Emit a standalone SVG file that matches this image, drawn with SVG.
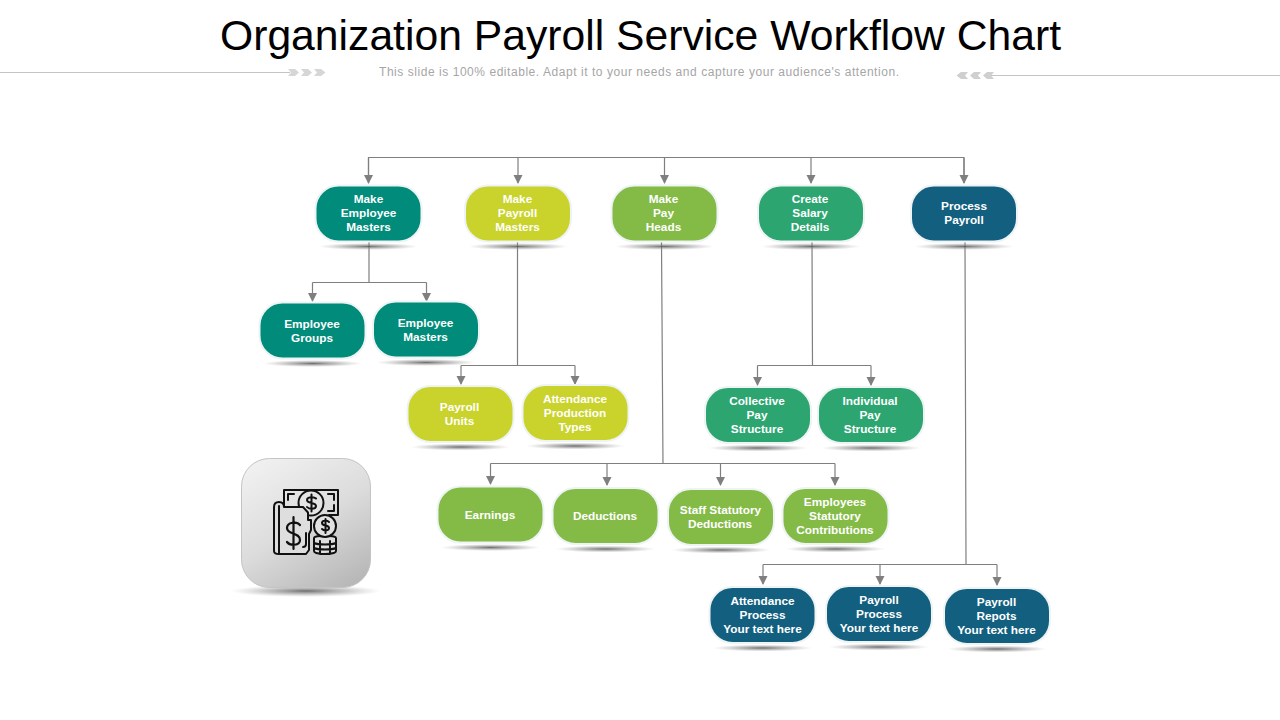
<svg xmlns="http://www.w3.org/2000/svg" width="1280" height="720" viewBox="0 0 1280 720">
<defs>
<radialGradient id="sh"><stop offset="0" stop-color="#555" stop-opacity=".85"/><stop offset=".55" stop-color="#888" stop-opacity=".45"/><stop offset="1" stop-color="#aaa" stop-opacity="0"/></radialGradient>
<linearGradient id="tile" x1="0.2" y1="0" x2="0.8" y2="1"><stop offset="0" stop-color="#f0f0f0"/><stop offset=".5" stop-color="#dcdcdc"/><stop offset="1" stop-color="#b8b8b8"/></linearGradient>
<marker id="ah" markerWidth="9" markerHeight="10" refX="8" refY="4.5" orient="auto" markerUnits="userSpaceOnUse"><path d="M0 0L9 4.5L0 9Z" fill="#7f7f7f"/></marker>
<g id="pill"><ellipse cx="0" cy="33" rx="50" ry="3.5" fill="url(#sh)"/><rect x="-53" y="-28" width="106" height="56" rx="23" stroke="#eef3f3" stroke-width="2"/></g>
</defs>
<style>
text{font-family:"Liberation Sans",Arial,sans-serif}
.t{font-size:11.800px;font-weight:700;fill:#fff;text-anchor:middle}
.c{fill:none;stroke:#7f7f7f;stroke-width:1.200}
.a{marker-end:url(#ah)}
.teal{fill:#008b7a}.lime{fill:#c9d32c}.grn{fill:#84bb47}.sea{fill:#2ca571}.blue{fill:#135f7f}
.ic{fill:none;stroke:#111;stroke-width:2;stroke-linejoin:round;stroke-linecap:round}
</style>

<g id="title">
<text x="640.500" y="50" font-size="43" text-anchor="middle" fill="#000" textLength="841" lengthAdjust="spacingAndGlyphs">Organization Payroll Service Workflow Chart</text>
<text x="639" y="76" font-size="12" text-anchor="middle" fill="#a6a6a6" textLength="520">This slide is 100% editable. Adapt it to your needs and capture your audience's attention.</text>
<path d="M0 72.500H290M990 75.500H1280" stroke="#c4c4c4" stroke-width="1.200" fill="none"/>
<path d="M288 69h7l4 3.500l-4 3.500h-7l3-3.500zM301 69h7l4 3.500l-4 3.500h-7l3-3.500zM314 69h7l4.500 3.500l-4.500 3.500h-7l3-3.500z" fill="#d6d6d6"/>
<path d="M994 72h-7l-4 3.500l4 3.500h7l-3-3.500zM981 72h-7l-4 3.500l4 3.500h7l-3-3.500zM968 72h-7l-4.500 3.500l4.500 3.500h7l-3-3.500z" fill="#cfcfcf"/>
</g>

<g id="connectors">
<path class="c" d="M368.500 183V157.500H964V183"/>
<path class="c a" d="M368.500 158V183"/><path class="c a" d="M518 158V183"/><path class="c a" d="M664.500 158V183"/><path class="c a" d="M811 158V183"/><path class="c a" d="M964 158V183"/>
<path class="c" d="M369 242V282.500M312.500 282.500H426.500"/><path class="c a" d="M312.500 282.500V301"/><path class="c a" d="M426.500 282.500V301"/>
<path class="c" d="M517.500 242V365.500M461 365.500H575"/><path class="c a" d="M461 365.500V384"/><path class="c a" d="M575 365.500V384"/>
<path class="c" d="M812 242L812.500 365.500M757.500 365.500H871"/><path class="c a" d="M757.500 365.500V385"/><path class="c a" d="M871 365.500V385"/>
<path class="c" d="M661.500 242L663 463.500M490.500 463.500H835"/><path class="c a" d="M490.500 463.500V484"/><path class="c a" d="M607 463.500V485"/><path class="c a" d="M720.500 463.500V485"/><path class="c a" d="M835 463.500V485"/>
<path class="c" d="M965 242L966 564.500M763 564.500H997"/><path class="c a" d="M763 564.500V584"/><path class="c a" d="M880 564.500V584"/><path class="c a" d="M997 564.500V585"/>
</g>

<g id="n1"><use href="#pill" class="teal" x="368.500" y="213.500"/><text class="t" x="368.500" y="203">Make</text><text class="t" x="368.500" y="217">Employee</text><text class="t" x="368.500" y="231">Masters</text></g>
<g id="n2"><use href="#pill" class="lime" x="518" y="213.500"/><text class="t" x="517.500" y="203">Make</text><text class="t" x="517.500" y="217">Payroll</text><text class="t" x="517.500" y="231">Masters</text></g>
<g id="n3"><use href="#pill" class="grn" x="664.500" y="213.500"/><text class="t" x="663.500" y="203">Make</text><text class="t" x="663.500" y="217">Pay</text><text class="t" x="663.500" y="231">Heads</text></g>
<g id="n4"><use href="#pill" class="sea" x="811" y="213.500"/><text class="t" x="810" y="203">Create</text><text class="t" x="810" y="217">Salary</text><text class="t" x="810" y="231">Details</text></g>
<g id="n5"><use href="#pill" class="blue" x="964" y="213.500"/><text class="t" x="964" y="210">Process</text><text class="t" x="964" y="224">Payroll</text></g>
<g id="n6"><use href="#pill" class="teal" x="312.500" y="330.500"/><text class="t" x="312" y="328">Employee</text><text class="t" x="312" y="342">Groups</text></g>
<g id="n7"><use href="#pill" class="teal" x="426" y="329.500"/><text class="t" x="425.500" y="327">Employee</text><text class="t" x="425.500" y="341">Masters</text></g>
<g id="n8"><use href="#pill" class="lime" x="460.500" y="414"/><text class="t" x="459.500" y="411">Payroll</text><text class="t" x="459.500" y="425">Units</text></g>
<g id="n9"><use href="#pill" class="lime" x="575.500" y="413"/><text class="t" x="575" y="403">Attendance</text><text class="t" x="575" y="417">Production</text><text class="t" x="575" y="431">Types</text></g>
<g id="n10"><use href="#pill" class="sea" x="758" y="415"/><text class="t" x="757" y="405">Collective</text><text class="t" x="757" y="419">Pay</text><text class="t" x="757" y="433">Structure</text></g>
<g id="n11"><use href="#pill" class="sea" x="871" y="415"/><text class="t" x="870" y="405">Individual</text><text class="t" x="870" y="419">Pay</text><text class="t" x="870" y="433">Structure</text></g>
<g id="n12"><use href="#pill" class="grn" x="490.500" y="514.500"/><text class="t" x="490" y="519">Earnings</text></g>
<g id="n13"><use href="#pill" class="grn" x="605.500" y="516"/><text class="t" x="605" y="520">Deductions</text></g>
<g id="n14"><use href="#pill" class="grn" x="721" y="517"/><text class="t" x="720.500" y="514">Staff Statutory</text><text class="t" x="720" y="528">Deductions</text></g>
<g id="n15"><use href="#pill" class="grn" x="835.500" y="516"/><text class="t" x="835" y="506">Employees</text><text class="t" x="835" y="520">Statutory</text><text class="t" x="835" y="534">Contributions</text></g>
<g id="n16"><use href="#pill" class="blue" x="762.500" y="615"/><text class="t" x="762.500" y="605">Attendance</text><text class="t" x="762.500" y="619">Process</text><text class="t" x="762.500" y="633">Your text here</text></g>
<g id="n17"><use href="#pill" class="blue" x="879" y="614"/><text class="t" x="879" y="604">Payroll</text><text class="t" x="879" y="618">Process</text><text class="t" x="879" y="632">Your text here</text></g>
<g id="n18"><use href="#pill" class="blue" x="997" y="616"/><text class="t" x="996.500" y="606">Payroll</text><text class="t" x="996.500" y="620">Repots</text><text class="t" x="996.500" y="634">Your text here</text></g>

<g id="icon-tile">
<ellipse cx="306" cy="591" rx="75" ry="6" fill="url(#sh)"/>
<rect x="241.500" y="458.500" width="129" height="129" rx="28" fill="url(#tile)" stroke="#c4c4c4"/>
<g class="ic">
<path d="M284 507V490H338V515H329"/>
<path d="M288 500V494H294M334 500V494H328M334 505V511H328"/>
<circle cx="311" cy="503" r="12.500" fill="#e4e4e4"/>
<path d="M316 498.500c-2-2-9-2-9 1.500c0 4 9 2 9 6c0 3.500-7 3.500-9 1M311.500 494.500V511.500"/>
<path d="M274 551V507c0-4 2.500-5 5-5s5 1 5 5H303L308 512.500V520H311V530L309 534V550L306 554H279C275 554 274 553 274 551Z" fill="#dedede"/>
<path d="M279 506V554"/>
<path d="M300 525c-3-4-13-3-13 3c0 7 13 4 13 12c0 6-10 6-13 2M293.500 517V549" stroke-width="2.200"/>
<path d="M306 533V544Q306 547 303 547"/>
<path d="M314 538c0-3 22-3 22 0V551c0 4-22 4-22 0ZM314 543c4 2 18 2 22 0M314 548c4 2 18 2 22 0M320 541V554M330 541V554" fill="#dedede"/>
<circle cx="325" cy="526" r="11" fill="#e2e2e2"/>
<path d="M329 522c-2-2-7-2-7 1c0 3.500 7 1.500 7 5c0 3-5 3-7 1M325.500 519V533"/>
</g>
</g>
</svg>
